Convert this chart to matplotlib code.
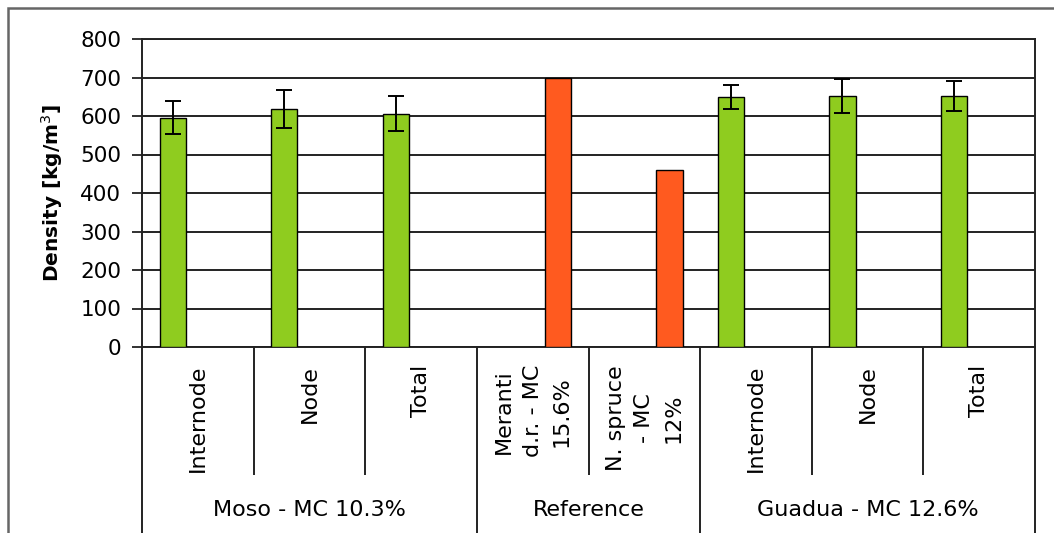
import matplotlib
matplotlib.use("Agg")
import matplotlib.pyplot as plt
import matplotlib.transforms as mtransforms
from matplotlib.patches import Rectangle
import numpy as np

# Data
categories = ["Internode", "Node", "Total",
              "Meranti\nd.r. - MC\n15.6%", "N. spruce\n- MC\n12%",
              "Internode", "Node", "Total"]
groups = ["Moso - MC 10.3%", "Reference", "Guadua - MC 12.6%"]
group_sizes = [3, 2, 3]

bamboo_density = [596, 618, 606, np.nan, np.nan, 650, 651, 652]
bamboo_err = [42, 50, 45, 0, 0, 31, 44, 39]
reference_density = [np.nan, np.nan, np.nan, 700, 460, np.nan, np.nan, np.nan]

yticks = [0, 100, 200, 300, 400, 500, 600, 700, 800]

GREEN = "#8fcc1f"
ORANGE = "#ff5a1f"
LINE = "#222222"

plt.rcParams["font.family"] = ["DejaVu Sans"]

fig = plt.figure(figsize=(10.54, 5.33), dpi=100)
W, H = 1054, 533
ax = fig.add_axes([142 / W, 1 - 347 / H, (1035 - 142) / W, (347 - 39) / H])

x = np.arange(len(categories))
bw = 0.235
off = 0.225

bam_mask = ~np.isnan(bamboo_density)
ax.bar(x[bam_mask] - off, np.array(bamboo_density)[bam_mask], width=bw,
       color=GREEN, edgecolor="black", linewidth=1.0, zorder=3)
ax.errorbar(x[bam_mask] - off, np.array(bamboo_density)[bam_mask],
            yerr=np.array(bamboo_err)[bam_mask], fmt="none", ecolor="black",
            elinewidth=1.4, capsize=5.5, capthick=1.4, zorder=4)
ref_mask = ~np.isnan(reference_density)
ax.bar(x[ref_mask] + off, np.array(reference_density)[ref_mask], width=bw,
       color=ORANGE, edgecolor="black", linewidth=1.0, zorder=3)

ax.set_xlim(-0.5, len(categories) - 0.5)
ax.set_ylim(0, 800)
ax.set_yticks(yticks)
ax.set_yticklabels([str(v) for v in yticks], fontsize=15.5)
ax.yaxis.grid(True, color=LINE, linewidth=1.4, zorder=0)
ax.set_axisbelow(True)
ax.tick_params(axis="y", direction="out", length=7, width=1.3, color=LINE, pad=8)
ax.set_xticks([])
for side in ["left", "right", "top", "bottom"]:
    ax.spines[side].set_color(LINE)
    ax.spines[side].set_linewidth(1.4)

ax.set_ylabel("Density [kg/m$^3$]", fontsize=14.5, fontweight="bold")
ax.yaxis.set_label_coords(-0.086, 0.5)

# Two-level category axis below the plot
trans = mtransforms.blended_transform_factory(ax.transData, ax.transAxes)
px = 1.0 / (347 - 39)  # one pixel in axes-height units
inner_bottom = -(475 - 347) * px
outer_bottom = -(540 - 347) * px

for i, lab in enumerate(categories):
    ax.text(i, -18 * px, lab, transform=trans, rotation=90, ha="center",
            va="top", fontsize=16, multialignment="center", linespacing=1.55,
            clip_on=False)

edges = np.cumsum([0] + group_sizes) - 0.5
for i in range(len(categories) + 1):
    xe = i - 0.5
    y0 = outer_bottom if np.any(np.isclose(edges, xe)) else inner_bottom
    ax.plot([xe, xe], [0, y0], transform=trans, color=LINE, linewidth=1.4,
            clip_on=False, solid_capstyle="butt")

for g, (lab, a, b) in enumerate(zip(groups, edges[:-1], edges[1:])):
    ax.text((a + b) / 2, -(510 - 347) * px, lab, transform=trans, ha="center",
            va="center", fontsize=16, clip_on=False)

# Outer chart frame
fig.patches.append(Rectangle((8 / W, -0.1), 1.2, 1 - 8 / H + 0.1,
                             transform=fig.transFigure, fill=False,
                             edgecolor="#666666", linewidth=1.8))

fig.savefig("out.png", dpi=100)
